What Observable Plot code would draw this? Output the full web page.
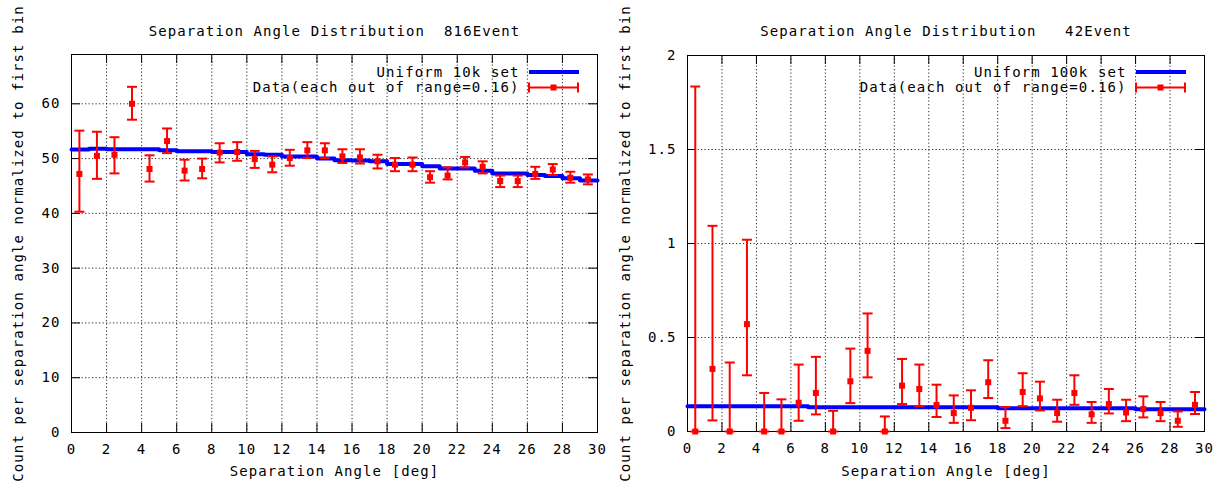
<!DOCTYPE html>
<html><head><meta charset="utf-8">
<script src="https://cdn.jsdelivr.net/npm/d3@7"></script>
<script src="https://cdn.jsdelivr.net/npm/@observablehq/plot@0.6"></script>
<style>
body{margin:0;background:#fff;}
#wrap{display:flex;width:1231px;height:485px;background:#fff;}
svg text{white-space:pre;}
</style></head><body><div id="wrap"></div>
<script>
// ---------- data ----------
const xTicks = [0,2,4,6,8,10,12,14,16,18,20,22,24,26,28,30];
const binCenters = [0.45,1.45,2.45,3.45,4.45,5.45,6.45,7.45,8.45,9.45,10.45,11.45,12.45,13.45,14.45,15.45,16.45,17.45,18.45,19.45,20.45,21.45,22.45,23.45,24.45,25.45,26.45,27.45,28.45,29.45];
const binEdges = [0,1,2,3,4,5,6,7,8,9,10,11,12,13,14,15,16,17,18,19,20,21,22,23,24,25,26,27,28,29,30];

const leftTitle = "Separation Angle Distribution  816Event";
const rightTitle = "Separation Angle Distribution   42Event";
const xLabel = "Separation Angle [deg]";
const yLabel = "Count per separation angle normalized to first bin";
const leftLineName = "Uniform 10k set";
const rightLineName = "Uniform 100k set";
const dataName = "Data(each out of range=0.16)";

const leftYTicks = [0,10,20,30,40,50,60];
const leftYTickLabels = ["0","10","20","30","40","50","60"];
const rightYTicks = [0,0.5,1,1.5,2];
const rightYTickLabels = ["0","0.5","1","1.5","2"];

const leftValue = [47.2,50.5,50.7,60.0,48.1,53.2,47.8,48.1,51.1,51.2,49.9,48.9,50.1,51.5,51.5,50.4,50.2,49.5,48.9,48.9,46.6,46.9,49.3,48.5,45.9,45.9,47.2,48.0,46.5,46.2];
const leftHigh  = [55.1,54.9,53.9,63.1,50.6,55.5,49.8,50.0,52.8,53.0,51.4,50.4,51.6,53.0,52.8,51.7,51.7,50.7,50.1,50.2,47.7,48.4,50.3,49.5,46.9,46.9,48.5,49.0,47.6,47.1];
const leftLow   = [40.3,46.3,47.3,57.1,45.8,51.0,46.0,46.4,49.3,49.6,48.3,47.5,48.7,50.1,50.1,49.2,49.1,48.2,47.7,47.7,45.6,46.2,48.4,47.3,44.8,44.8,46.3,47.0,45.6,45.3];
const leftUniform = [51.65,51.8,51.7,51.7,51.7,51.5,51.35,51.35,51.2,51.2,50.8,50.7,50.4,50.4,50.0,49.7,49.65,49.5,49.0,49.0,48.6,48.2,48.2,47.8,47.3,47.3,47.0,46.8,46.4,46.0];

const rightValue = [0,0.333,0,0.571,0,0,0.153,0.205,0,0.267,0.429,0,0.244,0.226,0.141,0.098,0.126,0.262,0.057,0.210,0.176,0.098,0.205,0.091,0.146,0.101,0.119,0.098,0.057,0.142];
const rightHigh  = [1.835,1.094,0.367,1.02,0.205,0.171,0.356,0.397,0.110,0.441,0.628,0.080,0.386,0.356,0.249,0.192,0.219,0.379,0.130,0.310,0.265,0.169,0.299,0.157,0.226,0.169,0.187,0.157,0.107,0.210];
const rightLow   = [0,0.059,0,0.299,0,0,0.057,0.091,0,0.151,0.288,0,0.146,0.135,0.077,0.046,0.060,0.178,0.018,0.135,0.112,0.052,0.142,0.046,0.096,0.055,0.075,0.055,0.025,0.093];
const rightUniform = [0.134,0.134,0.134,0.134,0.134,0.134,0.134,0.129,0.129,0.129,0.129,0.129,0.129,0.129,0.129,0.129,0.129,0.129,0.124,0.124,0.124,0.124,0.124,0.124,0.124,0.124,0.119,0.119,0.119,0.119];

// ---------- drawing ----------
const H = 485;
const RED = "#ff0000", BLUE = "#0000ff";
const nb = s => s.replace(/ /g, "\u00a0");

function panel(cfg) {
  const fw = cfg.width - cfg.ml - cfg.mr;
  const fh = H - cfg.mt - cfg.mb;
  const pts = binCenters.map((x, i) => ({x, y: cfg.value[i], lo: cfg.low[i], hi: cfg.high[i]}));
  const steps = binEdges.map((x, i) => ({x, y: cfg.uniform[Math.min(i, cfg.uniform.length - 1)]}));
  const capSym = {draw(ctx) { ctx.moveTo(-5, 0); ctx.lineTo(5, 0); }};
  const sqSym = {draw(ctx) { ctx.rect(-3, -3, 6, 6); }};
  const innerX = xTicks.filter(t => t > 0 && t < 30);
  const innerY = cfg.yTicks.filter(t => t > 0 && t < cfg.ymax);
  const grid = {stroke: "#000", strokeWidth: 1, strokeDasharray: "1.2,2.3", strokeOpacity: 0.85};
  const svg = Plot.plot({
    width: cfg.width, height: H,
    marginLeft: cfg.ml, marginRight: cfg.mr, marginTop: cfg.mt, marginBottom: cfg.mb,
    x: {domain: [0, 30], axis: null},
    y: {domain: [0, cfg.ymax], axis: null},
    style: {fontFamily: "'DejaVu Sans Mono', monospace", fontSize: "14px", letterSpacing: "1.1px", background: "#fff", color: "#000", overflow: "visible"},
    marks: [
      Plot.ruleX(innerX, {x: d => d, ...grid}),
      Plot.ruleY(innerY, {y: d => d, ...grid}),
      Plot.tickX(xTicks, {x: d => d, insetTop: fh - 9, stroke: "#000"}),
      Plot.tickX(xTicks, {x: d => d, insetBottom: fh - 9, stroke: "#000"}),
      Plot.tickY(cfg.yTicks, {y: d => d, insetRight: fw - 9, stroke: "#000"}),
      Plot.tickY(cfg.yTicks, {y: d => d, insetLeft: fw - 9, stroke: "#000"}),
      Plot.frame({stroke: "#000", strokeWidth: 1}),
      Plot.line(steps, {x: "x", y: "y", curve: "step-after", stroke: BLUE, strokeWidth: 4}),
      Plot.ruleX(pts, {x: "x", y1: "lo", y2: "hi", stroke: RED, strokeWidth: 2}),
      Plot.dot(pts, {x: "x", y: "hi", symbol: capSym, stroke: RED, strokeWidth: 2, fill: "none"}),
      Plot.dot(pts, {x: "x", y: "lo", symbol: capSym, stroke: RED, strokeWidth: 2, fill: "none"}),
      Plot.dot(pts, {x: "x", y: "y", symbol: sqSym, fill: RED, stroke: "none"}),
      Plot.text(xTicks, {x: d => d, text: d => String(d), frameAnchor: "bottom", dy: 17, textAnchor: "middle", lineAnchor: "middle", fill: "#000"}),
      Plot.text(cfg.yTicks, {y: d => d, text: (d, i) => cfg.yLabels[i], frameAnchor: "left", dx: -11, textAnchor: "end", lineAnchor: "middle", fill: "#000"}),
      Plot.text([cfg.title], {text: d => nb(d), frameAnchor: "top", dy: 31 - cfg.mt, textAnchor: "middle", lineAnchor: "middle", fill: "#000"}),
      Plot.text([xLabel], {text: d => nb(d), frameAnchor: "bottom", dy: 471 - (H - cfg.mb), textAnchor: "middle", lineAnchor: "middle", fill: "#000"}),
      Plot.text([yLabel], {text: d => nb(d), frameAnchor: "left", dx: cfg.ylabX - cfg.ml, rotate: -90, textAnchor: "middle", lineAnchor: "middle", fill: "#000"}),
      Plot.text([cfg.lineName], {text: d => nb(d), frameAnchor: "top-right", dx: -78, dy: 72 - cfg.mt, textAnchor: "end", lineAnchor: "middle", fill: "#000"}),
      Plot.text([dataName], {text: d => nb(d), frameAnchor: "top-right", dx: -78, dy: 87.5 - cfg.mt, textAnchor: "end", lineAnchor: "middle", fill: "#000"})
    ]
  });
  // legend samples (layout only)
  const fr = cfg.width - cfg.mr;
  const g = d3.select(svg).append("g");
  g.append("line").attr("x1", fr - 68).attr("x2", fr - 18).attr("y1", 72).attr("y2", 72)
    .attr("stroke", BLUE).attr("stroke-width", 4);
  const ry = 87.5;
  g.append("line").attr("x1", fr - 68).attr("x2", fr - 19).attr("y1", ry).attr("y2", ry)
    .attr("stroke", RED).attr("stroke-width", 2);
  [fr - 68, fr - 19].forEach(x => g.append("line").attr("x1", x).attr("x2", x).attr("y1", ry - 5).attr("y2", ry + 5)
    .attr("stroke", RED).attr("stroke-width", 2));
  g.append("rect").attr("x", fr - 43.5 - 3).attr("y", ry - 3).attr("width", 6).attr("height", 6).attr("fill", RED);
  return svg;
}

const wrap = document.getElementById("wrap");
wrap.append(panel({
  width: 615, ml: 71, mr: 18, mt: 54, mb: 53, ymax: 69,
  yTicks: leftYTicks, yLabels: leftYTickLabels, title: leftTitle, lineName: leftLineName,
  value: leftValue, low: leftLow, high: leftHigh, uniform: leftUniform, ylabX: 18
}));
wrap.append(panel({
  width: 616, ml: 72, mr: 27, mt: 55, mb: 54, ymax: 2,
  yTicks: rightYTicks, yLabels: rightYTickLabels, title: rightTitle, lineName: rightLineName,
  value: rightValue, low: rightLow, high: rightHigh, uniform: rightUniform, ylabX: 10
}));
</script></body></html>
